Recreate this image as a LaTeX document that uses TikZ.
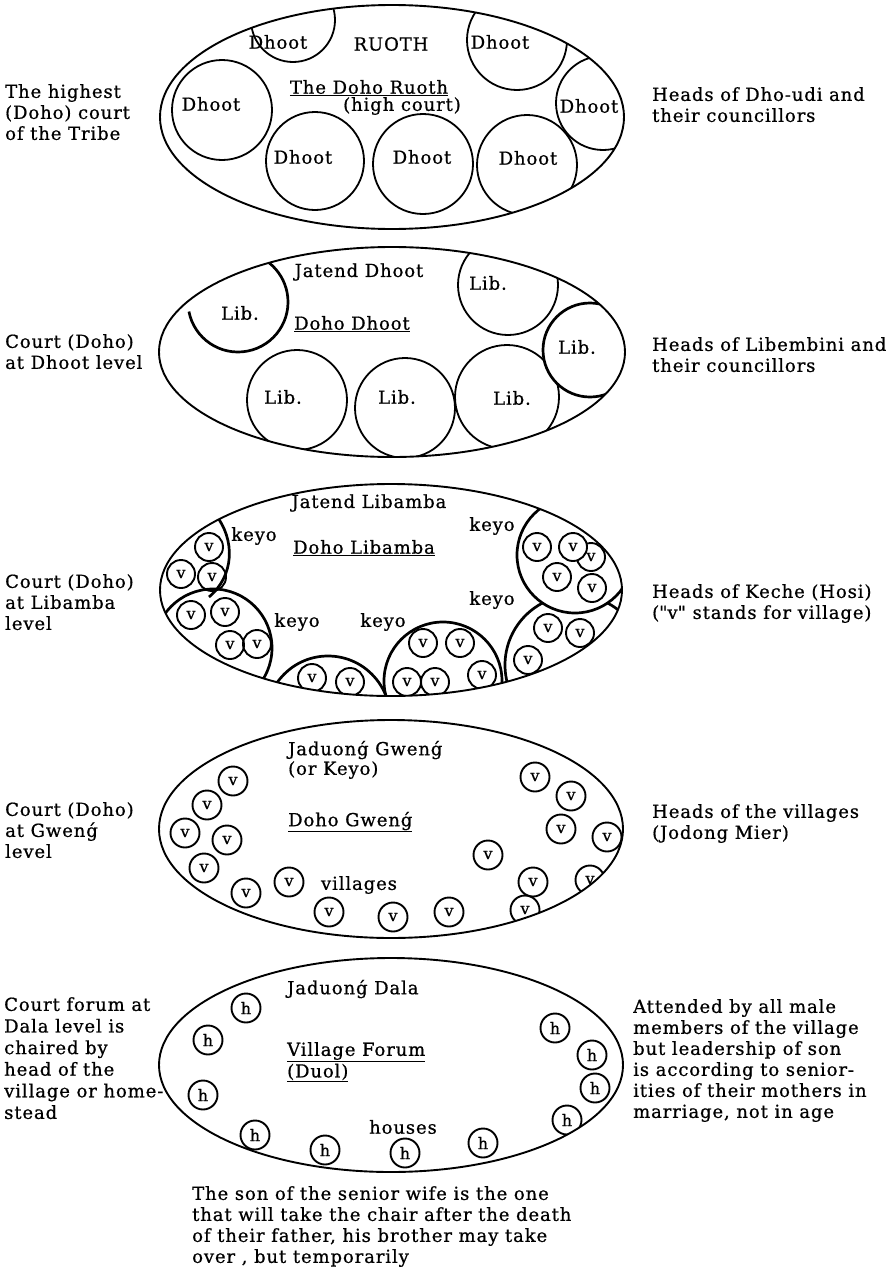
\documentclass[tikz,border=0pt]{standalone}
\usepackage{fontspec}
\setmainfont{DejaVu Serif}[LetterSpace=5, FakeBold=0.7]
\newfontfamily\plainfont{DejaVu Serif}[LetterSpace=5, FakeBold=0.7]
\begin{document}
\begin{tikzpicture}[x=1pt,y=-1pt,
  outer/.style={line width=1.9pt},
  ring/.style={line width=1.8pt},
  heavy/.style={line width=2.7pt},
  lbl/.style={inner sep=0pt, font=\fontsize{18}{21}\selectfont},
  side/.style={lbl, align=left, anchor=north west},
  vc/.style={circle, draw, line width=1.9pt, minimum size=28pt, inner sep=0pt, font=\fontsize{16}{16}\selectfont},
  hc/.style={vc, minimum size=29pt},
  wf/.style={fill=white}
]
\useasboundingbox (0,0) rectangle (894,1274);
\fill[white] (0,0) rectangle (894,1274);

% ---------------- Ellipse 1 : Doho Ruoth ----------------
\begin{scope}
\clip (392,117) ellipse [x radius=232, y radius=112];
\draw[ring] (293,20) circle [radius=42];
\draw[ring] (517,40) circle [radius=50];
\draw[ring] (222,110) circle [radius=50];
\draw[ring] (315,161) circle [radius=49];
\draw[ring] (423,164) circle [radius=50];
\draw[ring] (527,165) circle [radius=50];
\draw[ring, wf] (603,103) circle [radius=47];
\end{scope}
\draw[outer] (392,117) ellipse [x radius=232, y radius=112];
\node[lbl] (d1) at (278,42) {Dhoot};
\node[lbl] (ruoth) at (391,44) {RUOTH};
\node[lbl] (d2) at (500,42) {Dhoot};
\node[lbl] (d3) at (589,106) {Dhoot};
\node[lbl] (d4) at (211,104) {Dhoot};
\node[lbl] (d5) at (303,157) {Dhoot};
\node[lbl] (d6) at (422,157) {Dhoot};
\node[lbl] (d7) at (528,158) {Dhoot};
\node[lbl] (dr) at (369,88) {\underline{The Doho Ruoth}};
\node[lbl] (hc1) at (402,106) {(high court)};

% ---------------- Ellipse 2 : Doho Dhoot ----------------
\begin{scope}
\clip (392,352) ellipse [x radius=233, y radius=105];
\draw[ring] (508,285) circle [radius=50];
\draw[ring] (297,400) circle [radius=50];
\draw[ring] (405,408) circle [radius=50];
\draw[ring] (507,397) circle [radius=52];
\draw[heavy, wf] (590,350) circle [radius=47];
\draw[heavy] (238,302) ++(169:50) arc[start angle=169, end angle=-51, radius=50];
\end{scope}
\draw[outer] (392,352) ellipse [x radius=233, y radius=105];
\node[lbl] (jd) at (359,272) {Jatend Dhoot};
\node[lbl] (dd) at (352,324) {\underline{Doho Dhoot}};
\node[lbl] (l1) at (240,313) {Lib.};
\node[lbl] (l2) at (488,283) {Lib.};
\node[lbl] (l3) at (577,347) {Lib.};
\node[lbl] (l4) at (283,397) {Lib.};
\node[lbl] (l5) at (397,397) {Lib.};
\node[lbl] (l6) at (512,398) {Lib.};

% ---------------- Ellipse 3 : Doho Libamba ----------------
\begin{scope}
\clip (391,590) ellipse [x radius=231, y radius=106];
\draw[heavy] (213,648) circle [radius=59];
\draw[heavy] (328,718) circle [radius=62];
\draw[heavy] (443,681) circle [radius=59];
\draw[heavy, wf] (575,665) circle [radius=70];
\draw[heavy, wf] (575,555) circle [radius=58];
% region A
\node[vc] (a1) at (209,547) {v};
\node[vc] (a2) at (181,574) {v};
\node[vc] (a3) at (212,577) {v};
\draw[heavy] (215,514) .. controls (236,540) and (234,576) .. (209,597);
% region B
\node[vc] (b1) at (191,615) {v};
\node[vc] (b2) at (225,612) {v};
\node[vc] (b3) at (230,645) {v};
\node[vc] (b4) at (257,644) {v};
% region C
\node[vc] (c1) at (312,678) {v};
\node[vc] (c2) at (350,682) {v};
% region D
\node[vc] (e1) at (423,643) {v};
\node[vc] (e2) at (460,643) {v};
\node[vc] (e3) at (407,682) {v};
\node[vc] (e4) at (435,682) {v};
\node[vc] (e5) at (482,675) {v};
% region E
\node[vc] (f1) at (548,628) {v};
\node[vc] (f2) at (580,633) {v};
\node[vc] (f3) at (528,660) {v};
% region F
\node[vc, wf] (g1) at (591,557) {v};
\node[vc, wf] (g2) at (537,547) {v};
\node[vc, wf] (g3) at (573,547) {v};
\node[vc] (g4) at (557,577) {v};
\node[vc] (g5) at (592,588) {v};
\end{scope}
\draw[outer] (391,590) ellipse [x radius=231, y radius=106];
\node[lbl] (jl) at (369,503) {Jatend Libamba};
\node[lbl] (dl) at (364,548) {\underline{Doho Libamba}};
\node[lbl] (k1) at (254,536) {keyo};
\node[lbl] (k2) at (492,526) {keyo};
\node[lbl] (k3) at (492,600) {keyo};
\node[lbl] (k4) at (297,622) {keyo};
\node[lbl] (k5) at (383,622) {keyo};

% ---------------- Ellipse 4 : Doho Gweng ----------------
\begin{scope}
\clip (391,829) ellipse [x radius=232, y radius=109];
\node[hc] (w1) at (233,781) {v};
\node[hc] (w2) at (207,805) {v};
\node[hc] (w3) at (185,833) {v};
\node[hc] (w4) at (227,840) {v};
\node[hc] (w5) at (204,868) {v};
\node[hc] (w6) at (246,893) {v};
\node[hc] (w7) at (289,882) {v};
\node[hc] (w8) at (329,912) {v};
\node[hc] (w9) at (393,917) {v};
\node[hc] (w10) at (449,912) {v};
\node[hc] (w11) at (525,910) {v};
\node[hc] (w12) at (488,855) {v};
\node[hc] (w13) at (533,882) {v};
\node[hc] (w14) at (535,777) {v};
\node[hc] (w15) at (571,796) {v};
\node[hc] (w16) at (561,829) {v};
\node[hc] (w17) at (607,837) {v};
\node[hc] (w18) at (590,880) {v};
\end{scope}
\draw[outer] (391,829) ellipse [x radius=232, y radius=109];
\node[lbl, anchor=west] (jg) at (288,750) {Jaduonǵ Gwenǵ};
\node[lbl, anchor=west] (ok) at (288,770) {(or Keyo)};
\node[lbl, anchor=west] (dg) at (288,822) {\underline{Doho Gwenǵ}};
\node[lbl] (vil) at (359,885) {villages};

% ---------------- Ellipse 5 : Village Forum ----------------
\begin{scope}
\clip (391,1065) ellipse [x radius=232, y radius=107];
\node[hc] (h1) at (246,1008) {h};
\node[hc] (h2) at (208,1040) {h};
\node[hc] (h3) at (203,1095) {h};
\node[hc] (h4) at (255,1135) {h};
\node[hc] (h5) at (325,1150) {h};
\node[hc] (h6) at (405,1153) {h};
\node[hc] (h7) at (483,1143) {h};
\node[hc] (h8) at (555,1028) {h};
\node[hc] (h9) at (592,1055) {h};
\node[hc] (h10) at (595,1088) {h};
\node[hc] (h11) at (567,1120) {h};
\end{scope}
\draw[outer] (391,1065) ellipse [x radius=232, y radius=107];
\node[lbl, anchor=west] (jdl) at (287,989) {Jaduonǵ Dala};
\node[lbl, anchor=west] (vf) at (287,1052) {\underline{Village Forum}};
\node[lbl, anchor=west] (duol) at (287,1073) {\underline{(Duol)}};
\node[lbl] (hs) at (403,1127) {houses};

% ---------------- side texts ----------------
\node[side] (s1) at (5,84) {The highest\\(Doho) court\\of the Tribe};
\node[side] (s2) at (5,334) {Court (Doho)\\at Dhoot level};
\node[side] (s3) at (5,574) {Court (Doho)\\at Libamba\\level};
\node[side] (s4) at (5,802) {Court (Doho)\\at Gwenǵ\\level};
\node[side, font=\fontsize{18}{21.6}\selectfont] (s5) at (4,997) {Court forum at\\Dala level is\\chaired by\\head of the\\village or home-\\stead};
\node[side] (r1) at (652,87) {Heads of Dho-udi and\\their councillors};
\node[side] (r2) at (652,337) {Heads of Libembini and\\their councillors};
\node[side] (r3) at (652,584) {Heads of Keche (Hosi)\\({\plainfont"}v{\plainfont"} stands for village)};
\node[side] (r4) at (652,804) {Heads of the villages\\(Jodong Mier)};
\node[side] (r5) at (633,999) {Attended by all male\\members of the village\\but leadership of son\\is according to senior-\\ities of their mothers in\\marriage, not in age};
\node[side] (bt) at (192,1186) {The son of the senior wife is the one\\that will take the chair after the death\\of their father, his brother may take\\over , but temporarily};
\end{tikzpicture}
\end{document}
